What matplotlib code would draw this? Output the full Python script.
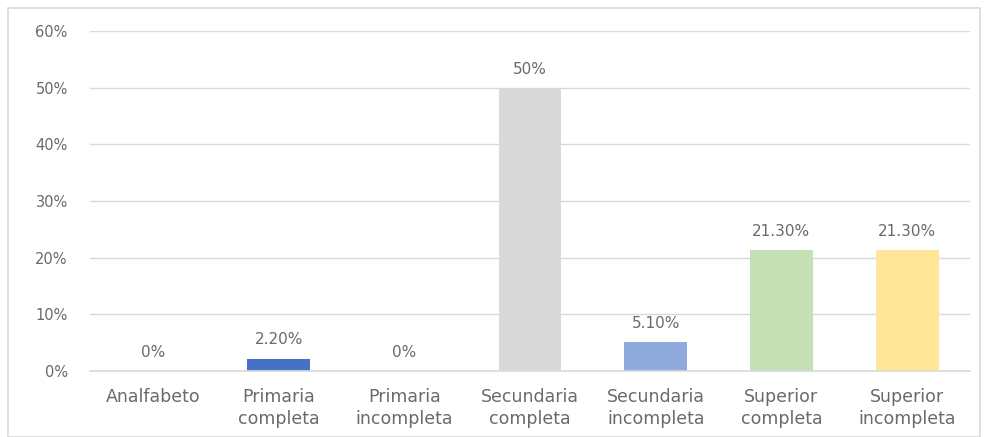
import matplotlib
matplotlib.use("Agg")
import matplotlib.pyplot as plt
from matplotlib.patches import Rectangle

categories = ["Analfabeto", "Primaria\ncompleta", "Primaria\nincompleta", "Secundaria\ncompleta",
              "Secundaria\nincompleta", "Superior\ncompleta", "Superior\nincompleta"]
values = [0, 2.2, 0, 50, 5.1, 21.3, 21.3]
labels = ["0%", "2.20%", "0%", "50%", "5.10%", "21.30%", "21.30%"]
colors = ["#4472C4", "#4472C4", "#4472C4", "#D9D9D9", "#8FAADC", "#C5E0B4", "#FFE699"]
yticks = [0, 10, 20, 30, 40, 50, 60]
ytick_labels = ["0%", "10%", "20%", "30%", "40%", "50%", "60%"]

txt = "#6a6a6a"
fig = plt.figure(figsize=(9.9, 4.37), dpi=100)
fig.patches.append(Rectangle((8/990, 0), 972/990, 1 - 8/437, transform=fig.transFigure,
                             fill=False, edgecolor="#D9D9D9", linewidth=1.2))
ax = fig.add_axes([90/990, 1 - 371/437, 880/990, 340/437])
x = range(len(categories))
ax.bar(x, values, width=0.5, color=colors, zorder=3)
ax.axhline(0, color="#D9D9D9", linewidth=1.2, zorder=4, clip_on=False)
ax.set_xlim(-0.5, len(categories) - 0.5)
ax.set_ylim(0, 60)
ax.set_yticks(yticks)
ax.set_yticklabels(ytick_labels, color=txt, fontsize=10.5)
ax.set_xticks(list(x))
ax.set_xticklabels(categories, color=txt, fontsize=12.5, linespacing=1.3)
ax.tick_params(axis="both", length=0)
ax.tick_params(axis="y", pad=16)
ax.tick_params(axis="x", pad=12)
ax.yaxis.grid(True, color="#D9D9D9", linewidth=1)
for s in ax.spines.values():
    s.set_visible(False)
for i, (v, l) in enumerate(zip(values, labels)):
    ax.annotate(l, (i, v), xytext=(0, 8), textcoords="offset points", ha="center", va="bottom",
                color=txt, fontsize=11)
fig.savefig("out.png", dpi=100)
